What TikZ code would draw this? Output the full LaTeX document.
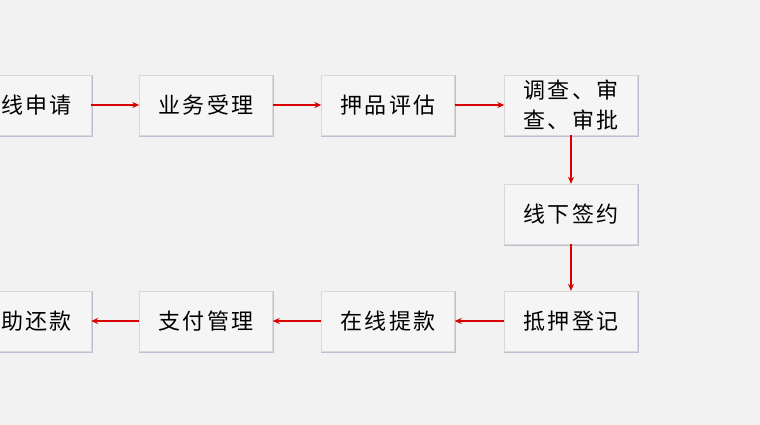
\documentclass[tikz,border=0pt]{standalone}
\usepackage{fontspec}
\newfontfamily\cjk[LetterSpace=10]{Noto Sans CJK SC}
\usetikzlibrary{arrows.meta,positioning}
\tikzset{
  Step/.style={rectangle, minimum width=133pt, minimum height=60pt, inner sep=1pt,
    fill=black!4, draw=black!15, text width=125pt, align=center,
    font=\cjk\fontsize{22}{30}\selectfont,
    append after command={\pgfextra{\draw[blue!25!black!25, line width=1.5pt]
      ([xshift=1pt]\tikzlastnode.north east) -- ([xshift=1pt,yshift=-1pt]\tikzlastnode.south east)
      -- ([yshift=-1pt]\tikzlastnode.south west);}}},
  Flow/.style={-{Stealth[length=7pt,width=6pt]}, red!85!black, line width=1.2pt}
}
\begin{document}
\begin{tikzpicture}[x=1pt,y=-1pt]
    \fill[black!5] (0,0) rectangle (760,425);
    \useasboundingbox (0,0) rectangle (760,425);
    \clip (0,0) rectangle (760,425);
    \path
    (24.5,105) node[Step] (apply) {在线申请}
    (206,105) node[Step] (accept) {业务受理}
    (388,105) node[Step] (assess) {押品评估}
    (571,105) node[Step] (review) {调查、审\\查、审批}
    (571,214) node[Step] (sign) {线下签约}
    (571,321) node[Step] (pledge) {抵押登记}
    (388,321) node[Step] (draw) {在线提款}
    (206,321) node[Step] (pay) {支付管理}
    (24.5,321) node[Step] (repay) {协助还款};

    \draw[Flow] (apply) -- (accept);
    \draw[Flow] (accept) -- (assess);
    \draw[Flow] (assess) -- (review);
    \draw[Flow] (review) -- (sign);
    \draw[Flow] (sign) -- (pledge);
    \draw[Flow] (pledge) -- (draw);
    \draw[Flow] (draw) -- (pay);
    \draw[Flow] (pay) -- (repay);
\end{tikzpicture}
\end{document}
